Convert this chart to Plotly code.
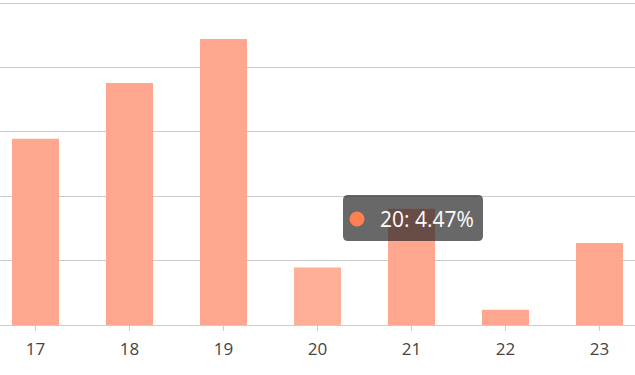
import plotly.graph_objects as go

categories = ["17", "18", "19", "20", "21", "22", "23"]
values = [14.46, 18.78, 22.21, 4.47, 9.03, 1.18, 6.37]
hover_index = 3
tooltip_label = "20: 4.47%"

W, H = 635, 375
ML, MR, MT, MB = 0, 0, 0, 50
PW, PH = W - ML - MR, H - MT - MB
y_top = 25 * PH / 322.0  # so that the 25 gridline sits 3px below the top

bar_color = "rgb(255,166,143)"
hover_color = "rgb(255,174,151)"
colors = [hover_color if i == hover_index else bar_color for i in range(len(categories))]

fig = go.Figure(go.Bar(x=categories, y=values, marker=dict(color=colors, line=dict(width=0)), width=0.5))

def px(x):
    return (x - ML) / PW

def py(y):
    return (H - MB - y) / PH

def rounded_rect(x0, y0, x1, y1, r):
    rx, ry = r / PW, r / PH
    X0, X1 = px(x0), px(x1)
    Y0, Y1 = py(y0), py(y1)
    return (f"M {X0+rx},{Y0} L {X1-rx},{Y0} Q {X1},{Y0} {X1},{Y0-ry} "
            f"L {X1},{Y1+ry} Q {X1},{Y1} {X1-rx},{Y1} L {X0+rx},{Y1} "
            f"Q {X0},{Y1} {X0},{Y1+ry} L {X0},{Y0-ry} Q {X0},{Y0} {X0+rx},{Y0} Z")

fig.add_shape(type="path", xref="paper", yref="paper", layer="above",
              path=rounded_rect(343, 195, 483, 241, 5),
              fillcolor="rgba(40,40,40,0.7)", line=dict(width=0))
cx, cy, cr = 357, 219, 7.5
fig.add_shape(type="circle", xref="paper", yref="paper", layer="above",
              x0=px(cx - cr), x1=px(cx + cr), y0=py(cy + cr), y1=py(cy - cr),
              fillcolor="rgb(255,127,80)", line=dict(width=0))
fig.add_annotation(xref="paper", yref="paper", x=px(378), y=py(219),
                   xanchor="left", yanchor="middle", showarrow=False,
                   text=tooltip_label, font=dict(family="Open Sans", size=21, color="white"))

fig.update_layout(
    width=W, height=H,
    margin=dict(l=ML, r=MR, t=MT, b=MB),
    paper_bgcolor="white", plot_bgcolor="white",
    showlegend=False,
    bargap=0.5,
    font=dict(family="Open Sans", color="#444"),
    xaxis=dict(type="category", range=[-0.3777, 6.3777], showgrid=False,
               showline=True, linecolor="#ccc", linewidth=1,
               ticks="outside", ticklen=5, tickcolor="#ccc",
               ticklabelstandoff=4,
               tickfont=dict(size=17, color="#444"), zeroline=False),
    yaxis=dict(range=[0, y_top], tickvals=[0, 5, 10, 15, 20, 25], showgrid=True, gridcolor="#ccc",
               gridwidth=1, showticklabels=False, zeroline=False, showline=False),
)

fig.write_html("out.html")
